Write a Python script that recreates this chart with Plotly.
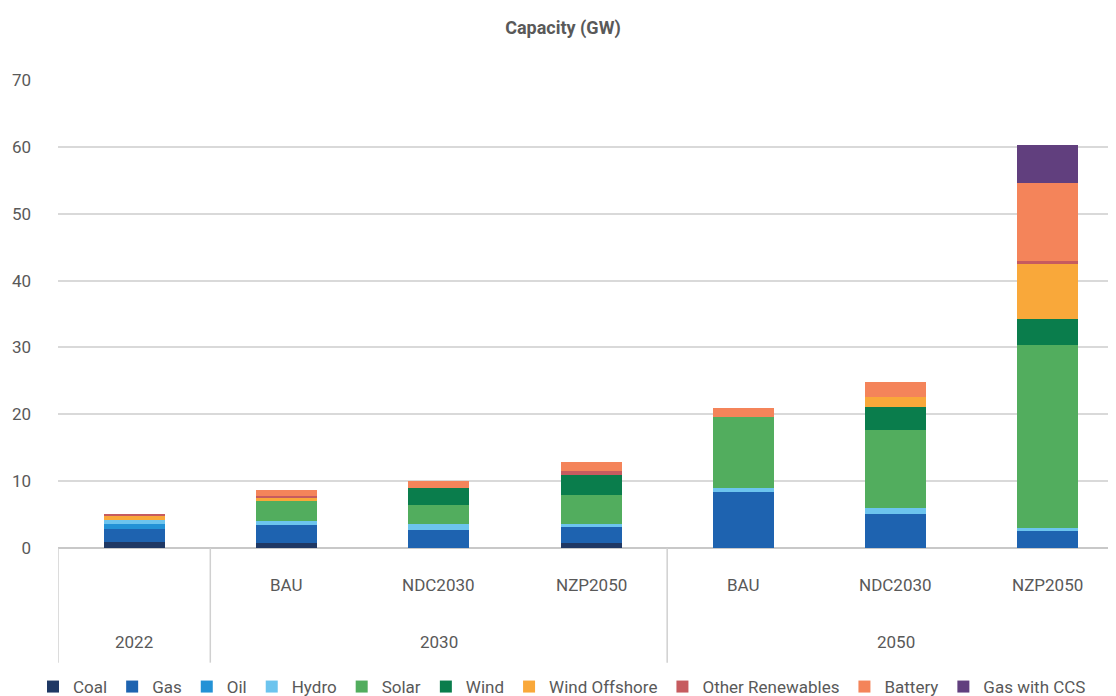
import plotly.graph_objects as go

# Data
scenarios = ["", "BAU", "NDC2030", "NZP2050", "BAU", "NDC2030", "NZP2050"]
years = ["2022", "2030", "2050"]
technologies = ["Coal", "Gas", "Oil", "Hydro", "Solar", "Wind", "Wind Offshore",
                "Other Renewables", "Battery", "Gas with CCS"]

coal = [0.94, 0.79, 0.0, 0.80, 0.0, 0.0, 0.0]
gas = [1.94, 2.69, 2.69, 2.39, 8.38, 5.09, 2.54]
oil = [0.75, 0.0, 0.0, 0.0, 0.0, 0.0, 0.0]
hydro = [0.60, 0.55, 0.94, 0.45, 0.60, 0.94, 0.45]
solar = [0.0, 2.99, 2.84, 4.34, 10.62, 11.62, 27.37]
wind = [0.0, 0.0, 2.50, 2.99, 0.0, 3.44, 3.89]
wind_offshore = [0.60, 0.49, 0.0, 0.0, 0.0, 1.50, 8.23]
other_renewables = [0.25, 0.30, 0.0, 0.50, 0.0, 0.0, 0.45]
battery = [0.0, 0.85, 1.05, 1.35, 1.40, 2.24, 11.67]
gas_ccs = [0.0, 0.0, 0.0, 0.0, 0.0, 0.0, 5.68]

series = [coal, gas, oil, hydro, solar, wind, wind_offshore,
          other_renewables, battery, gas_ccs]
colors = ["#1F3864", "#1E63B0", "#2392D6", "#6CC4EE", "#52AD5E", "#0A7D4C",
          "#F9A83A", "#C65B5F", "#F4845A", "#613F7E"]

x_pos = list(range(len(scenarios)))
text_color = "#595959"
font_family = "Roboto, 'Noto Sans', sans-serif"

OFF = 8  # page body margin offset
W, H = 1116 - OFF, 696 - OFF

fig = go.Figure()
for name, vals, col in zip(technologies, series, colors):
    fig.add_trace(go.Bar(
        x=x_pos, y=vals, name=name, width=0.4,
        marker=dict(color=col, line=dict(width=0)),
        hoverinfo="skip",
    ))

# Category labels (two levels)
for xi, s in zip(x_pos, scenarios):
    if s:
        fig.add_annotation(x=xi, y=-0.079, xref="x", yref="paper", text=s,
                           showarrow=False, font=dict(size=17, color=text_color),
                           yanchor="middle")
group_centers = [0, 2, 5]
for xc, yr in zip(group_centers, years):
    fig.add_annotation(x=xc, y=-0.201, xref="x", yref="paper", text=yr,
                       showarrow=False, font=dict(size=17, color=text_color),
                       yanchor="middle")

for xs in [-0.5, 0.5, 3.5]:
    fig.add_shape(type="line", x0=xs, x1=xs, y0=0, y1=-0.245,
                  xref="x", yref="paper",
                  line=dict(color="#D0D0D0", width=1.5))

fig.update_layout(
    barmode="stack",
    width=W, height=H,
    margin=dict(l=58 - OFF, r=0, t=80 - OFF, b=H - (548 - OFF), autoexpand=False),
    paper_bgcolor="white", plot_bgcolor="white",
    font=dict(family=font_family, color=text_color, size=17),
    title=dict(text="<b>Capacity (GW)</b>", x=(563 - OFF) / W, xanchor="center",
               y=1 - (28 - OFF) / H, yanchor="middle",
               font=dict(size=18, color=text_color)),
    showlegend=True,
    legend=dict(orientation="h", xref="container", x=(562 - OFF) / W,
                xanchor="center", yref="container", y=1 - (687 - OFF) / H,
                yanchor="middle", font=dict(size=17, color=text_color),
                traceorder="normal", itemwidth=30),
    hovermode=False,
    bargap=0,
)
fig.update_xaxes(range=[-0.5, 6.447], showticklabels=False, showgrid=False,
                 zeroline=False, showline=False, ticks="")
fig.update_yaxes(range=[0, 70], dtick=10, showgrid=True, gridcolor="#D9D9D9",
                 gridwidth=1.5, zeroline=True, zerolinecolor="#C8C8C8",
                 zerolinewidth=1.5, showline=False, ticks="",
                 tickfont=dict(size=17, color=text_color),
                 ticklabelstandoff=26)

fig.write_html("out.html")
